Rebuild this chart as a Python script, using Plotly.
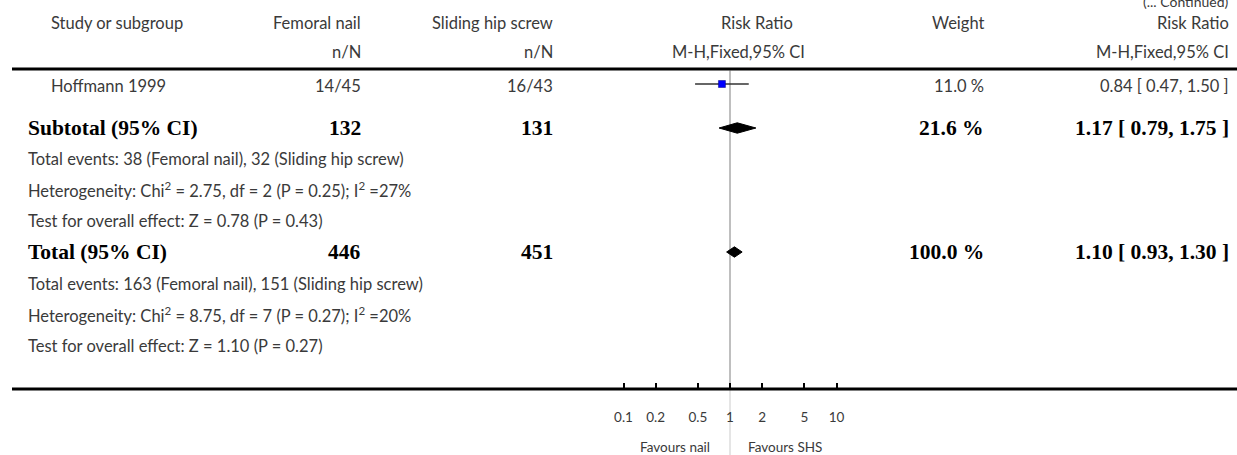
import plotly.graph_objects as go

# ---------------- data ----------------
study_names = ["Hoffmann 1999"]
study_nail = ["14/45"]
study_shs = ["16/43"]
study_weight = [11.0]
study_rr = [0.84]
study_lo = [0.47]
study_hi = [1.50]

subtotal_label = "Subtotal (95% CI)"
subtotal_nail = 132
subtotal_shs = 131
subtotal_weight = 21.6
subtotal_rr = 1.17
subtotal_lo = 0.79
subtotal_hi = 1.75
subtotal_notes = [
    "Total events: 38 (Femoral nail), 32 (Sliding hip screw)",
    "Heterogeneity: Chi<sup>2</sup> = 2.75, df = 2 (P = 0.25); I<sup>2</sup> =27%",
    "Test for overall effect: Z = 0.78 (P = 0.43)",
]

total_label = "Total (95% CI)"
total_nail = 446
total_shs = 451
total_weight = 100.0
total_rr = 1.10
total_lo = 0.93
total_hi = 1.30
total_notes = [
    "Total events: 163 (Femoral nail), 151 (Sliding hip screw)",
    "Heterogeneity: Chi<sup>2</sup> = 8.75, df = 7 (P = 0.27); I<sup>2</sup> =20%",
    "Test for overall effect: Z = 1.10 (P = 0.27)",
]

tick_vals = [0.1, 0.2, 0.5, 1, 2, 5, 10]
tick_text = ["0.1", "0.2", "0.5", "1", "2", "5", "10"]
favours_left = "Favours nail"
favours_right = "Favours SHS"

# ---------------- layout constants ----------------
W, H = 1237, 455
X_ONE = 730.0        # pixel of RR = 1
DECADE = 106.5       # pixels per decade
x_range = [(0 - X_ONE) / DECADE, (W - X_ONE) / DECADE]

Y_HEAD1, Y_HEAD2, Y_HLINE = 23, 52, 69
Y_STUDY = [86]
Y_SUB = 128
Y_SUB_NOTES = [159, 190, 221]
Y_TOT = 252
Y_TOT_NOTES = [284, 315, 346]
Y_AXIS = 389
Y_FAV = 447

COL_NAME_STUDY = 49
COL_NAME = 26
COL_LINE = 12
COL_NAIL = 363
COL_SHS = 555
COL_WEIGHT = 986
COL_CI = 1231

SANS = "Lato"
SERIF = "Liberation Serif"
TXT = "#3a3a3a"
FS = 16.5
FB = 21.5

fig = go.Figure()
ann = []


def txt(px, y, s, anchor="left", bold=False, size=None, color=None):
    ann.append(dict(
        x=px / W, xref="paper", y=y, yref="y",
        text=f"<b>{s}</b>" if bold else s, showarrow=False,
        xanchor=anchor, yanchor="middle",
        font=dict(family=SERIF if bold else SANS,
                  size=size or (FB if bold else FS),
                  color=color or ("#000" if bold else TXT)),
    ))


def fmt_ci(rr, lo, hi):
    return f"{rr:.2f} [ {lo:.2f}, {hi:.2f} ]"


# header
txt(COL_NAME_STUDY, Y_HEAD1, "Study or subgroup")
txt(COL_NAIL, Y_HEAD1, "Femoral nail", "right")
txt(COL_NAIL, Y_HEAD2, "n/N", "right")
txt(COL_SHS, Y_HEAD1, "Sliding hip screw", "right")
txt(COL_SHS, Y_HEAD2, "n/N", "right")
txt(757, Y_HEAD1, "Risk Ratio", "center")
txt(739, Y_HEAD2, "M-H,Fixed,95% CI", "center")
txt(COL_WEIGHT, Y_HEAD1, "Weight", "right")
txt(COL_CI, Y_HEAD1, "Risk Ratio", "right")
txt(COL_CI, Y_HEAD2, "M-H,Fixed,95% CI", "right")
txt(COL_CI, 1, "(... Continued)", "right", size=14)

# study rows
for i, name in enumerate(study_names):
    y = Y_STUDY[i]
    txt(COL_NAME_STUDY, y, name)
    txt(COL_NAIL, y, study_nail[i], "right")
    txt(COL_SHS, y, study_shs[i], "right")
    txt(COL_WEIGHT, y, f"{study_weight[i]:.1f} %", "right")
    txt(COL_CI, y, fmt_ci(study_rr[i], study_lo[i], study_hi[i]), "right")
    fig.add_trace(go.Scatter(
        x=[study_lo[i], study_hi[i]], y=[y - 2, y - 2], mode="lines",
        line=dict(color="#333", width=1.3), hoverinfo="skip", showlegend=False))
    fig.add_trace(go.Scatter(
        x=[study_rr[i]], y=[y - 2], mode="markers",
        marker=dict(symbol="square", size=7, color="#0000ff",
                    line=dict(color="#000080", width=0.5)),
        hoverinfo="skip", showlegend=False))

# subtotal
txt(COL_NAME, Y_SUB, subtotal_label, bold=True)
txt(COL_NAIL, Y_SUB, str(subtotal_nail), "right", bold=True)
txt(COL_SHS, Y_SUB, str(subtotal_shs), "right", bold=True)
txt(COL_WEIGHT, Y_SUB, f"{subtotal_weight:.1f} %", "right", bold=True)
txt(COL_CI, Y_SUB, fmt_ci(subtotal_rr, subtotal_lo, subtotal_hi), "right", bold=True)
for s, y in zip(subtotal_notes, Y_SUB_NOTES):
    txt(COL_NAME, y, s)

# total
txt(COL_NAME, Y_TOT, total_label, bold=True)
txt(COL_NAIL, Y_TOT, str(total_nail), "right", bold=True)
txt(COL_SHS, Y_TOT, str(total_shs), "right", bold=True)
txt(COL_WEIGHT, Y_TOT, f"{total_weight:.1f} %", "right", bold=True)
txt(COL_CI, Y_TOT, fmt_ci(total_rr, total_lo, total_hi), "right", bold=True)
for s, y in zip(total_notes, Y_TOT_NOTES):
    txt(COL_NAME, y, s)

# diamonds
DH = 5.2
for rr, lo, hi, y in [(subtotal_rr, subtotal_lo, subtotal_hi, Y_SUB),
                      (total_rr, total_lo, total_hi, Y_TOT)]:
    fig.add_trace(go.Scatter(
        x=[lo, rr, hi, rr, lo], y=[y, y - DH, y, y + DH, y],
        mode="lines", fill="toself", fillcolor="#000",
        line=dict(color="#000", width=1), hoverinfo="skip", showlegend=False))

# favours labels
txt(X_ONE - 18, Y_FAV, favours_left, "right", size=13.5)
txt(X_ONE + 16, Y_FAV, favours_right, "left", size=13.5)

shapes = [
    dict(type="line", xref="paper", yref="y", x0=COL_LINE / W, x1=1,
         y0=Y_HLINE, y1=Y_HLINE, line=dict(color="#000", width=3)),
    dict(type="line", xref="x", yref="y", x0=1, x1=1, y0=Y_HLINE + 1.5, y1=Y_AXIS,
         line=dict(color="#aaaaaa", width=1.5), layer="below"),
    dict(type="line", xref="x", yref="y", x0=1, x1=1, y0=Y_AXIS, y1=H,
         line=dict(color="#dddddd", width=1.5), layer="below"),
    dict(type="line", xref="paper", yref="y", x0=COL_LINE / W, x1=1,
         y0=Y_AXIS, y1=Y_AXIS, line=dict(color="#000", width=3)),
]

fig.update_layout(
    width=W, height=H, autosize=False,
    margin=dict(l=0, r=0, t=0, b=0),
    paper_bgcolor="white", plot_bgcolor="white",
    showlegend=False, hovermode=False,
    annotations=ann, shapes=shapes,
    xaxis=dict(type="log", range=x_range, domain=[0, 1],
               anchor="free", position=(H - Y_AXIS) / H,
               showgrid=False, zeroline=False, showline=False,
               tickmode="array", tickvals=tick_vals, ticktext=tick_text,
               ticks="inside", ticklen=6, tickwidth=2, tickcolor="#000",
               ticklabelstandoff=18,
               tickfont=dict(family=SANS, size=13.5, color=TXT)),
    yaxis=dict(range=[H, 0], domain=[0, 1], visible=False,
               showgrid=False, zeroline=False),
)

fig.write_html(
    "out.html",
    config={"displayModeBar": False, "staticPlot": True},
    post_script="document.body.style.margin='0';document.body.style.overflow='hidden';",
)
